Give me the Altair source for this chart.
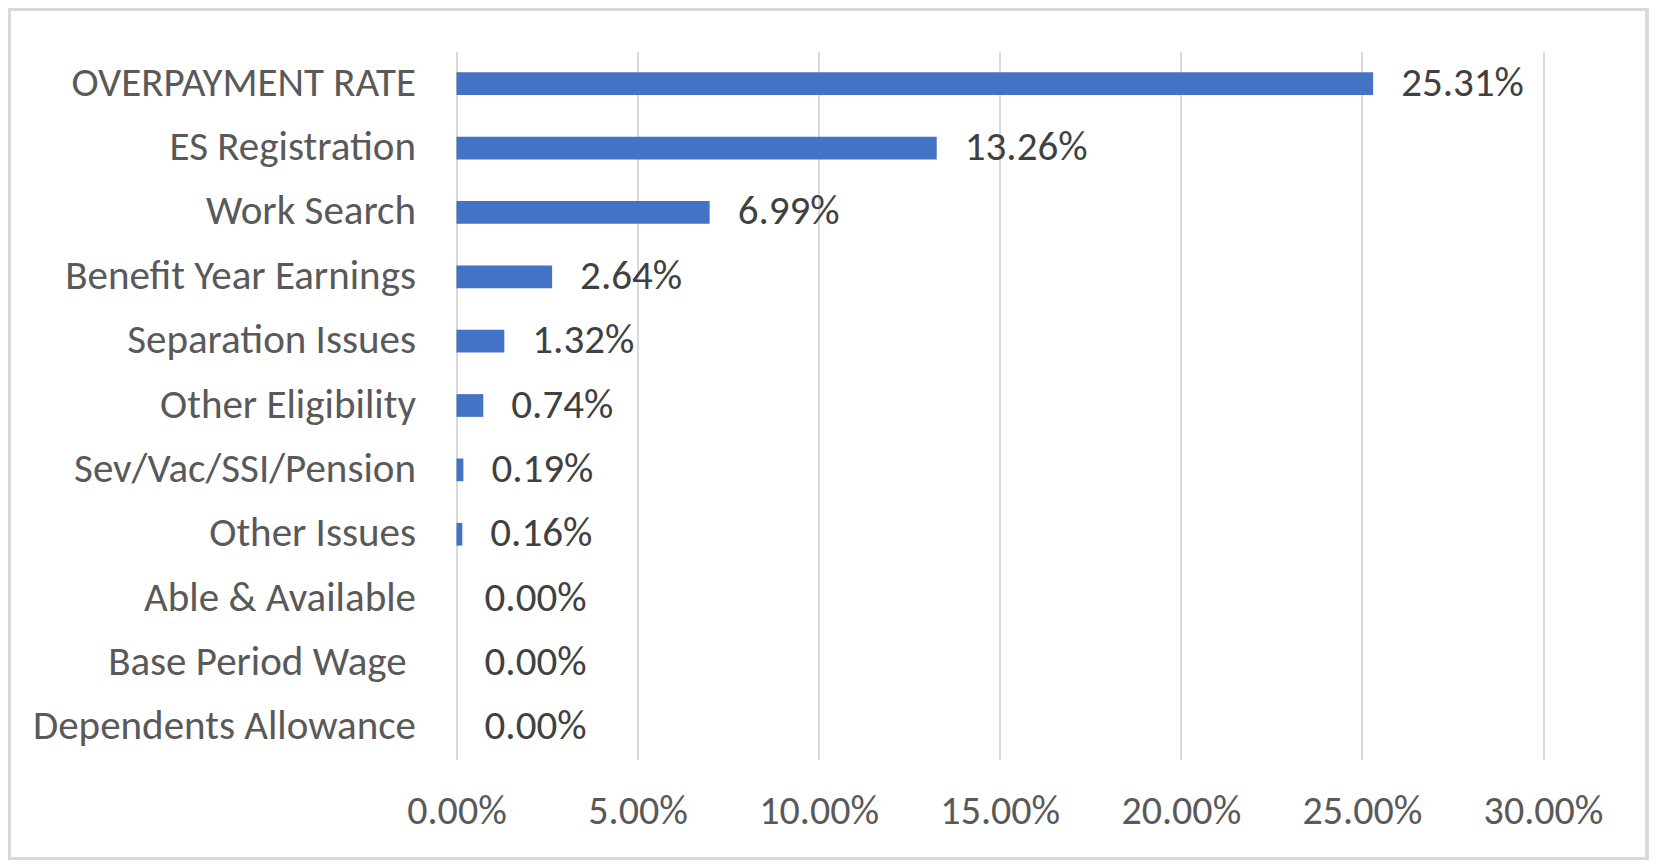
import altair as alt
import pandas as pd

categories = [
    "OVERPAYMENT RATE",
    "ES Registration",
    "Work Search",
    "Benefit Year Earnings",
    "Separation Issues",
    "Other Eligibility",
    "Sev/Vac/SSI/Pension",
    "Other Issues",
    "Able & Available",
    "Base Period Wage\u00a0\u200b",
    "Dependents Allowance",
]
values_pct = [25.31, 13.26, 6.99, 2.64, 1.32, 0.74, 0.19, 0.16, 0.00, 0.00, 0.00]
x_ticks_pct = [0, 5, 10, 15, 20, 25, 30]

df = pd.DataFrame({"category": categories, "value": [v / 100 for v in values_pct]})

FONT = "Carlito, Calibri, Lato, sans-serif"
W, H = 1086.5, 708

y_enc = alt.Y(
    "category:N",
    sort=categories,
    scale=alt.Scale(paddingInner=0.647, paddingOuter=0.3235),
    axis=alt.Axis(
        title=None,
        domain=False,
        ticks=False,
        grid=False,
        labelFont=FONT,
        labelFontSize=41,
        labelColor="#595959",
        labelPadding=41,
        labelLimit=600,
    ),
)
x_enc = alt.X(
    "value:Q",
    scale=alt.Scale(domain=[0, 0.30], nice=False),
    axis=alt.Axis(
        title=None,
        values=[t / 100 for t in x_ticks_pct],
        format=".2%",
        domain=False,
        ticks=False,
        tickSize=0,
        grid=True,
        gridColor="#d9d9d9",
        gridWidth=2,
        labelFont=FONT,
        labelFontSize=40,
        labelColor="#595959",
        labelBaseline="middle",
        labelPadding=52,
        labelFlush=False,
    ),
)

bars = alt.Chart(df).mark_bar(color="#4472C4").encode(x=x_enc, y=y_enc)

labels = alt.Chart(df).mark_text(
    align="left", baseline="middle", dx=28, font=FONT, fontSize=41, color="#404040"
).encode(
    x=alt.X("value:Q"),
    y=alt.Y("category:N", sort=categories),
    text=alt.Text("value:Q", format=".2%"),
)

frame = alt.Chart(df).mark_rect(
    fill=None, stroke="#d9d9d9", strokeWidth=2.5
).encode(
    x=alt.value(-447),
    x2=alt.value(W + 104),
    y=alt.value(-42),
    y2=alt.value(H + 99),
)

chart = (
    alt.layer(bars, labels, frame)
    .properties(
        width=W,
        height=H,
        autosize=alt.AutoSizeParams(type="none"),
        padding={"left": 448.5, "top": 43.5, "right": 106, "bottom": 100.5},
        background="white",
    )
    .configure_view(stroke=None)
)

chart.save("out.html", embed_options={"renderer": "svg", "actions": False})
